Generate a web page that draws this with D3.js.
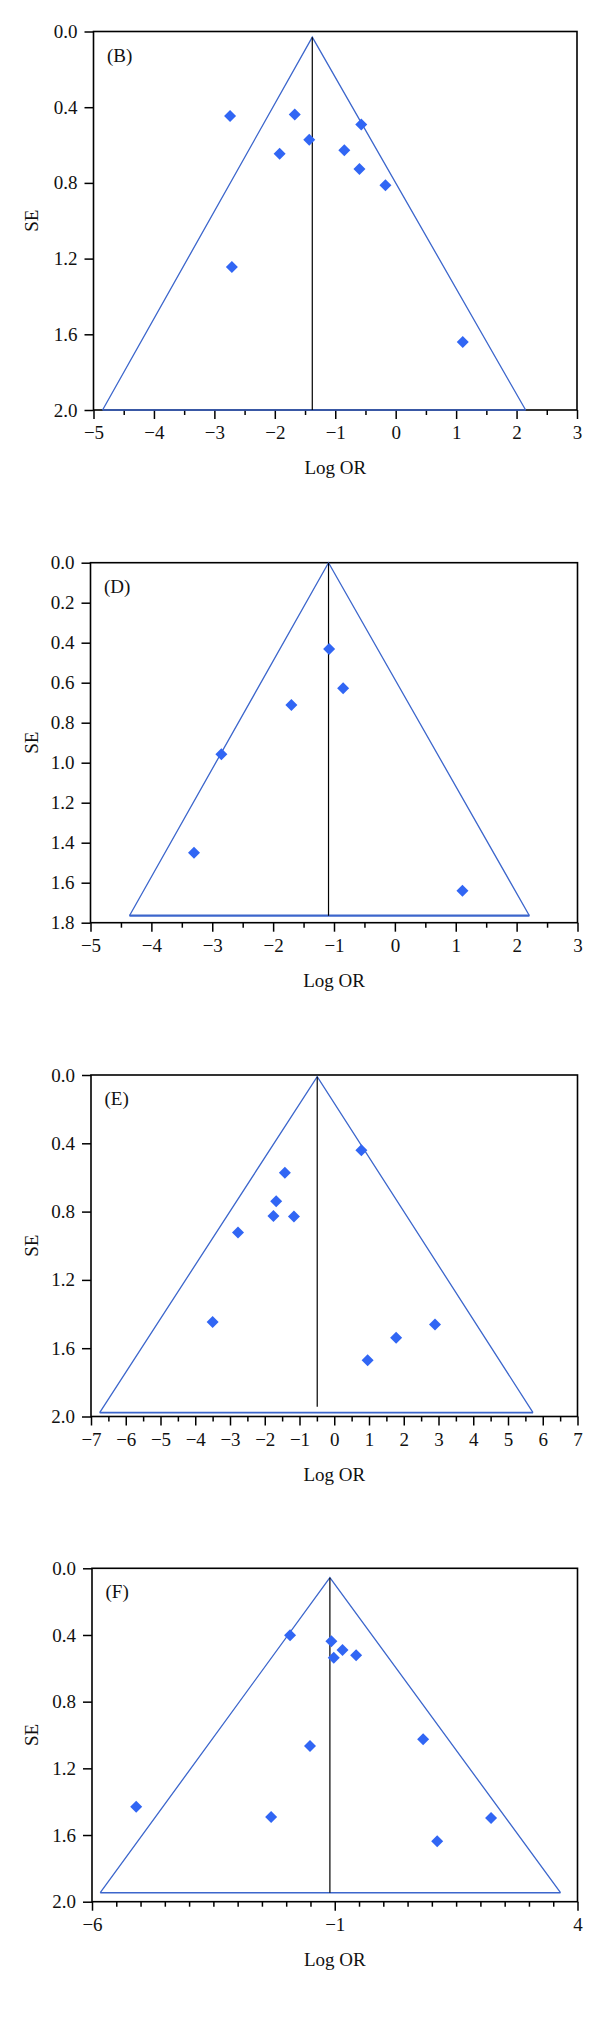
<!DOCTYPE html>
<html>
<head>
<meta charset="utf-8">
<script src="https://cdn.jsdelivr.net/npm/d3@7"></script>
<style>
  html, body { margin: 0; padding: 0; background: #fff; }
  svg { display: block; }
  text { font-family: "Liberation Serif", "Times New Roman", serif; fill: #111; }
</style>
</head>
<body>
<svg id="chart" width="600" height="2029"></svg>
<script>
// ---------- DATA ----------
// Panel (B)
const bLogOR = [-2.74, -1.67, -0.57, -1.43, -1.92, -0.85, -0.60, -0.17, -2.71, 1.11];
const bSE    = [0.447, 0.438, 0.492, 0.572, 0.646, 0.628, 0.727, 0.813, 1.245, 1.641];
const bFunnel = { center: -1.38, apexSE: 0.03, baseSE: 2.0, baseLeft: -4.85, baseRight: 2.15, lineEndSE: 2.0 };
const bXTicks = [-5, -4, -3, -2, -1, 0, 1, 2, 3];
const bYTicks = [0, 0.4, 0.8, 1.2, 1.6, 2.0];

// Panel (D)
const dLogOR = [-1.08, -0.85, -1.70, -2.85, -3.30, 1.11];
const dSE    = [0.432, 0.628, 0.712, 0.958, 1.450, 1.640];
const dFunnel = { center: -1.09, apexSE: 0.0, baseSE: 1.765, baseLeft: -4.36, baseRight: 2.21, lineEndSE: 1.765 };
const dXTicks = [-5, -4, -3, -2, -1, 0, 1, 2, 3];
const dYTicks = [0, 0.2, 0.4, 0.6, 0.8, 1.0, 1.2, 1.4, 1.6, 1.8];

// Panel (E)
const eLogOR = [0.78, -1.42, -1.67, -1.75, -1.16, -2.77, -3.50, 2.90, 1.78, 0.96];
const eSE    = [0.441, 0.572, 0.740, 0.826, 0.828, 0.922, 1.447, 1.461, 1.539, 1.670];
const eFunnel = { center: -0.49, apexSE: 0.01, baseSE: 1.977, baseLeft: -6.75, baseRight: 5.72, lineEndSE: 1.943 };
const eXTicks = [-7, -6, -5, -4, -3, -2, -1, 0, 1, 2, 3, 4, 5, 6, 7];
const eYTicks = [0, 0.4, 0.8, 1.2, 1.6, 2.0];

// Panel (F)
const fLogOR = [-1.92, -1.07, -0.84, -1.02, -0.56, -1.51, 0.82, -5.09, -2.31, 2.22, 1.11];
const fSE    = [0.402, 0.438, 0.490, 0.536, 0.522, 1.066, 1.026, 1.430, 1.492, 1.498, 1.638];
const fFunnel = { center: -1.10, apexSE: 0.056, baseSE: 1.946, baseLeft: -5.83, baseRight: 3.65, lineEndSE: 1.946 };
const fXTicks = [-6, -1, 4];
const fYTicks = [0, 0.4, 0.8, 1.2, 1.6, 2.0];

const panelLabels = ["(B)", "(D)", "(E)", "(F)"];
const xTitle = "Log OR";
const yTitle = "SE";

// ---------- LAYOUT ----------
const panels = [
  { label: panelLabels[0], x: bLogOR, y: bSE, funnel: bFunnel, xTicks: bXTicks, yTicks: bYTicks,
    xDomain: [-5, 3], yDomain: [0, 2.0], left: 93.5, right: 577, top: 31.5, bottom: 410, baseW: 1.6 },
  { label: panelLabels[1], x: dLogOR, y: dSE, funnel: dFunnel, xTicks: dXTicks, yTicks: dYTicks,
    xDomain: [-5, 3], yDomain: [0, 1.8], left: 90.5, right: 577.5, top: 562.7, bottom: 922.7, baseW: 2.2 },
  { label: panelLabels[2], x: eLogOR, y: eSE, funnel: eFunnel, xTicks: eXTicks, yTicks: eYTicks,
    xDomain: [-7, 7], yDomain: [0, 2.0], left: 91, right: 577.5, top: 1075, bottom: 1416.5, baseW: 1.8 },
  { label: panelLabels[3], x: fLogOR, y: fSE, funnel: fFunnel, xTicks: fXTicks, yTicks: fYTicks,
    xDomain: [-6, 4], yDomain: [0, 2.0], left: 92, right: 577.5, top: 1568.3, bottom: 1901.7, baseW: 1.6 }
];

const svg = d3.select("#chart");
const FONT = 19;
const lineBlue = "#3c66cc";
const dotBlue = "#3166f4";

panels.forEach(p => {
  const g = svg.append("g");
  const xs = d3.scaleLinear().domain(p.xDomain).range([p.left, p.right]);
  const ys = d3.scaleLinear().domain(p.yDomain).range([p.top, p.bottom]);

  // minor ticks every 0.5
  const minor = d3.range(p.xDomain[0], p.xDomain[1] + 0.001, 0.5)
    .filter(v => !p.xTicks.some(t => Math.abs(t - v) < 1e-9));

  // x axis (major)
  const xAxis = d3.axisBottom(xs).tickValues(p.xTicks).tickSize(9).tickPadding(7)
    .tickFormat(d3.format("d"));
  const xg = g.append("g").attr("transform", `translate(0,${p.bottom})`).call(xAxis);
  xg.select(".domain").remove();
  xg.selectAll(".tick line").attr("stroke", "#000").attr("stroke-width", 1.5);
  xg.selectAll(".tick text").attr("font-size", FONT).attr("font-family", "Liberation Serif").attr("fill", "#111");

  // minor x ticks
  const xm = d3.axisBottom(xs).tickValues(minor).tickSize(5).tickFormat("");
  const xmg = g.append("g").attr("transform", `translate(0,${p.bottom})`).call(xm);
  xmg.select(".domain").remove();
  xmg.selectAll(".tick line").attr("stroke", "#000").attr("stroke-width", 1.5);

  // y axis
  const yAxis = d3.axisLeft(ys).tickValues(p.yTicks).tickSize(9).tickPadding(7)
    .tickFormat(d3.format(".1f"));
  const yg = g.append("g").attr("transform", `translate(${p.left},0)`).call(yAxis);
  yg.select(".domain").remove();
  yg.selectAll(".tick line").attr("stroke", "#000").attr("stroke-width", 1.5);
  yg.selectAll(".tick text").attr("font-size", FONT).attr("font-family", "Liberation Serif").attr("fill", "#111");

  // frame
  g.append("rect")
    .attr("x", p.left).attr("y", p.top)
    .attr("width", p.right - p.left).attr("height", p.bottom - p.top)
    .attr("fill", "none").attr("stroke", "#000").attr("stroke-width", 1.6);

  // funnel triangle: sides
  const f = p.funnel;
  const sides = [[f.baseLeft, f.baseSE], [f.center, f.apexSE], [f.baseRight, f.baseSE]];
  g.append("path")
    .attr("d", d3.line().x(d => xs(d[0])).y(d => ys(d[1]))(sides))
    .attr("fill", "none").attr("stroke", lineBlue).attr("stroke-width", 1.3)
    .attr("stroke-linejoin", "miter");
  // funnel base
  g.append("line")
    .attr("x1", xs(f.baseLeft)).attr("x2", xs(f.baseRight))
    .attr("y1", ys(f.baseSE)).attr("y2", ys(f.baseSE))
    .attr("stroke", lineBlue).attr("stroke-width", p.baseW);

  // vertical pooled line
  g.append("line")
    .attr("x1", xs(f.center)).attr("x2", xs(f.center))
    .attr("y1", ys(f.apexSE)).attr("y2", ys(f.lineEndSE))
    .attr("stroke", "#000").attr("stroke-width", 1.2);

  // diamonds
  const pts = p.x.map((v, i) => [v, p.y[i]]);
  const r = 6;
  g.selectAll("path.pt").data(pts).enter().append("path")
    .attr("class", "pt")
    .attr("d", `M0,${-r}L${r},0L0,${r}L${-r},0Z`)
    .attr("transform", d => `translate(${xs(d[0])},${ys(d[1])})`)
    .attr("fill", dotBlue);

  // panel label
  g.append("text")
    .attr("x", p.left + 13.5).attr("y", p.top + 30)
    .attr("font-size", FONT).text(p.label);

  // axis titles
  g.append("text")
    .attr("x", (p.left + p.right) / 2).attr("y", p.bottom + 64)
    .attr("text-anchor", "middle").attr("font-size", FONT).text(xTitle);

  g.append("text")
    .attr("transform", `translate(38,${(p.top + p.bottom) / 2}) rotate(-90)`)
    .attr("text-anchor", "middle").attr("font-size", FONT).text(yTitle);
});
</script>
</body>
</html>
